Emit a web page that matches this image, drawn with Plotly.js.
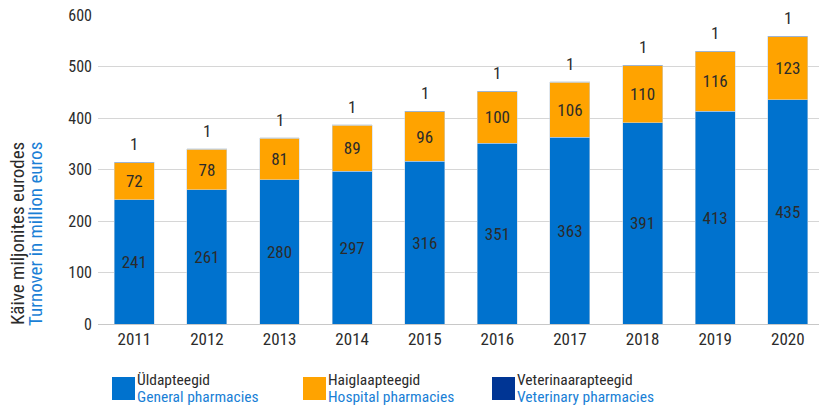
<!DOCTYPE html>
<html><head><meta charset="utf-8">
<script src="https://cdn.plot.ly/plotly-3.0.1.min.js"></script>
<style>html,body{margin:0;padding:0;background:#fff}#chart{width:819px;height:405px}</style>
</head><body><div id="chart"></div>
<script>
const years = ['2011','2012','2013','2014','2015','2016','2017','2018','2019','2020'];
const general = [241,261,280,297,316,351,363,391,413,435];
const hospital = [72,78,81,89,96,100,106,110,116,123];
const veterinary = [1,1,1,1,1,1,1,1,1,1];
const namesEt = ['Üldapteegid','Haiglaapteegid','Veterinaarapteegid'];
const namesEn = ['General pharmacies','Hospital pharmacies','Veterinary pharmacies'];
const colors = ['#0072CE','#FFA300','#003594'];
const yTitleEt = 'Käive miljonites eurodes';
const yTitleEn = 'Turnover in million euros';

const FONT = 'Roboto Condensed, Roboto, sans-serif';
const TXT = '#2b2b2b';
const BLUE_TXT = '#1a7fd6';
const M = {l:98, r:0, t:15, b:81};
const W = 819, H = 405;
const pw = W - M.l - M.r, ph = H - M.t - M.b;
const px = x => (x - M.l) / pw;
const py = y => (H - M.b - y) / ph;

const mk = (vals, i, withText) => ({
  type:'bar', x: years, y: vals, name: namesEt[i],
  marker:{color: colors[i], line:{color:'rgba(200,212,225,0.9)', width:0.6}},
  text: withText ? vals.map(String) : undefined,
  textposition: withText ? 'inside' : 'none',
  insidetextanchor:'middle',
  textangle: 0,
  textfont:{family:FONT, size:17, color:TXT},
  hoverinfo:'skip', showlegend:false
});

const data = [mk(general,0,true), mk(hospital,1,true), mk(veterinary,2,false)];

const totals = years.map((_, k) => general[k] + hospital[k] + veterinary[k]);
const annotations = years.map((yr, k) => ({
  x: k, y: totals[k], xref:'x', yref:'y', text: String(veterinary[k]),
  showarrow:false, yanchor:'middle', yshift:18,
  font:{family:FONT, size:17, color:TXT}
}));

[[yTitleEt, TXT, 17], [yTitleEn, BLUE_TXT, 35]].forEach(([t, c, cx]) => {
  annotations.push({
    xref:'paper', yref:'paper', x: px(cx), y: py(234), xanchor:'center', yanchor:'middle',
    textangle:-90, showarrow:false,
    text: t, font:{family:FONT, size:19, color:c}
  });
});

const legSq = [112, 303, 492];
const legTx = [138, 329, 518];
const shapes = [];
legSq.forEach((lx, i) => {
  shapes.push({type:'rect', xref:'paper', yref:'paper',
    x0: px(lx), x1: px(lx+23), y0: py(400), y1: py(377),
    fillcolor: colors[i], line:{width:0}});
  annotations.push({xref:'paper', yref:'paper', x: px(legTx[i]-2), y: py(380),
    xanchor:'left', yanchor:'middle', showarrow:false, borderpad:0,
    text: namesEt[i], font:{family:FONT, size:15.5, color:TXT}});
  annotations.push({xref:'paper', yref:'paper', x: px(legTx[i]-2), y: py(397),
    xanchor:'left', yanchor:'middle', showarrow:false, borderpad:0,
    text: namesEn[i], font:{family:FONT, size:15.5, color:BLUE_TXT}});
});

const layout = {
  width: W, height: H, margin: M,
  paper_bgcolor:'#fff', plot_bgcolor:'#fff',
  barmode:'stack', bargap:0.45,
  showlegend:false,
  font:{family:FONT, size:15, color:TXT},
  xaxis:{type:'category', range:[-0.5, 9.43], showgrid:false, zeroline:false,
    showline:true, linecolor:'#c8c8c8', linewidth:1, ticks:'',
    tickfont:{family:FONT, size:17, color:TXT}, fixedrange:true},
  yaxis:{range:[0,600], dtick:100, showgrid:true, gridcolor:'#d6d6d6', gridwidth:1,
    zeroline:false, showline:false, ticks:'', ticklabelstandoff:5,
    tickfont:{family:FONT, size:16, color:TXT}, fixedrange:true},
  annotations, shapes
};

Plotly.newPlot('chart', data, layout, {displayModeBar:false, staticPlot:true});
</script></body></html>
